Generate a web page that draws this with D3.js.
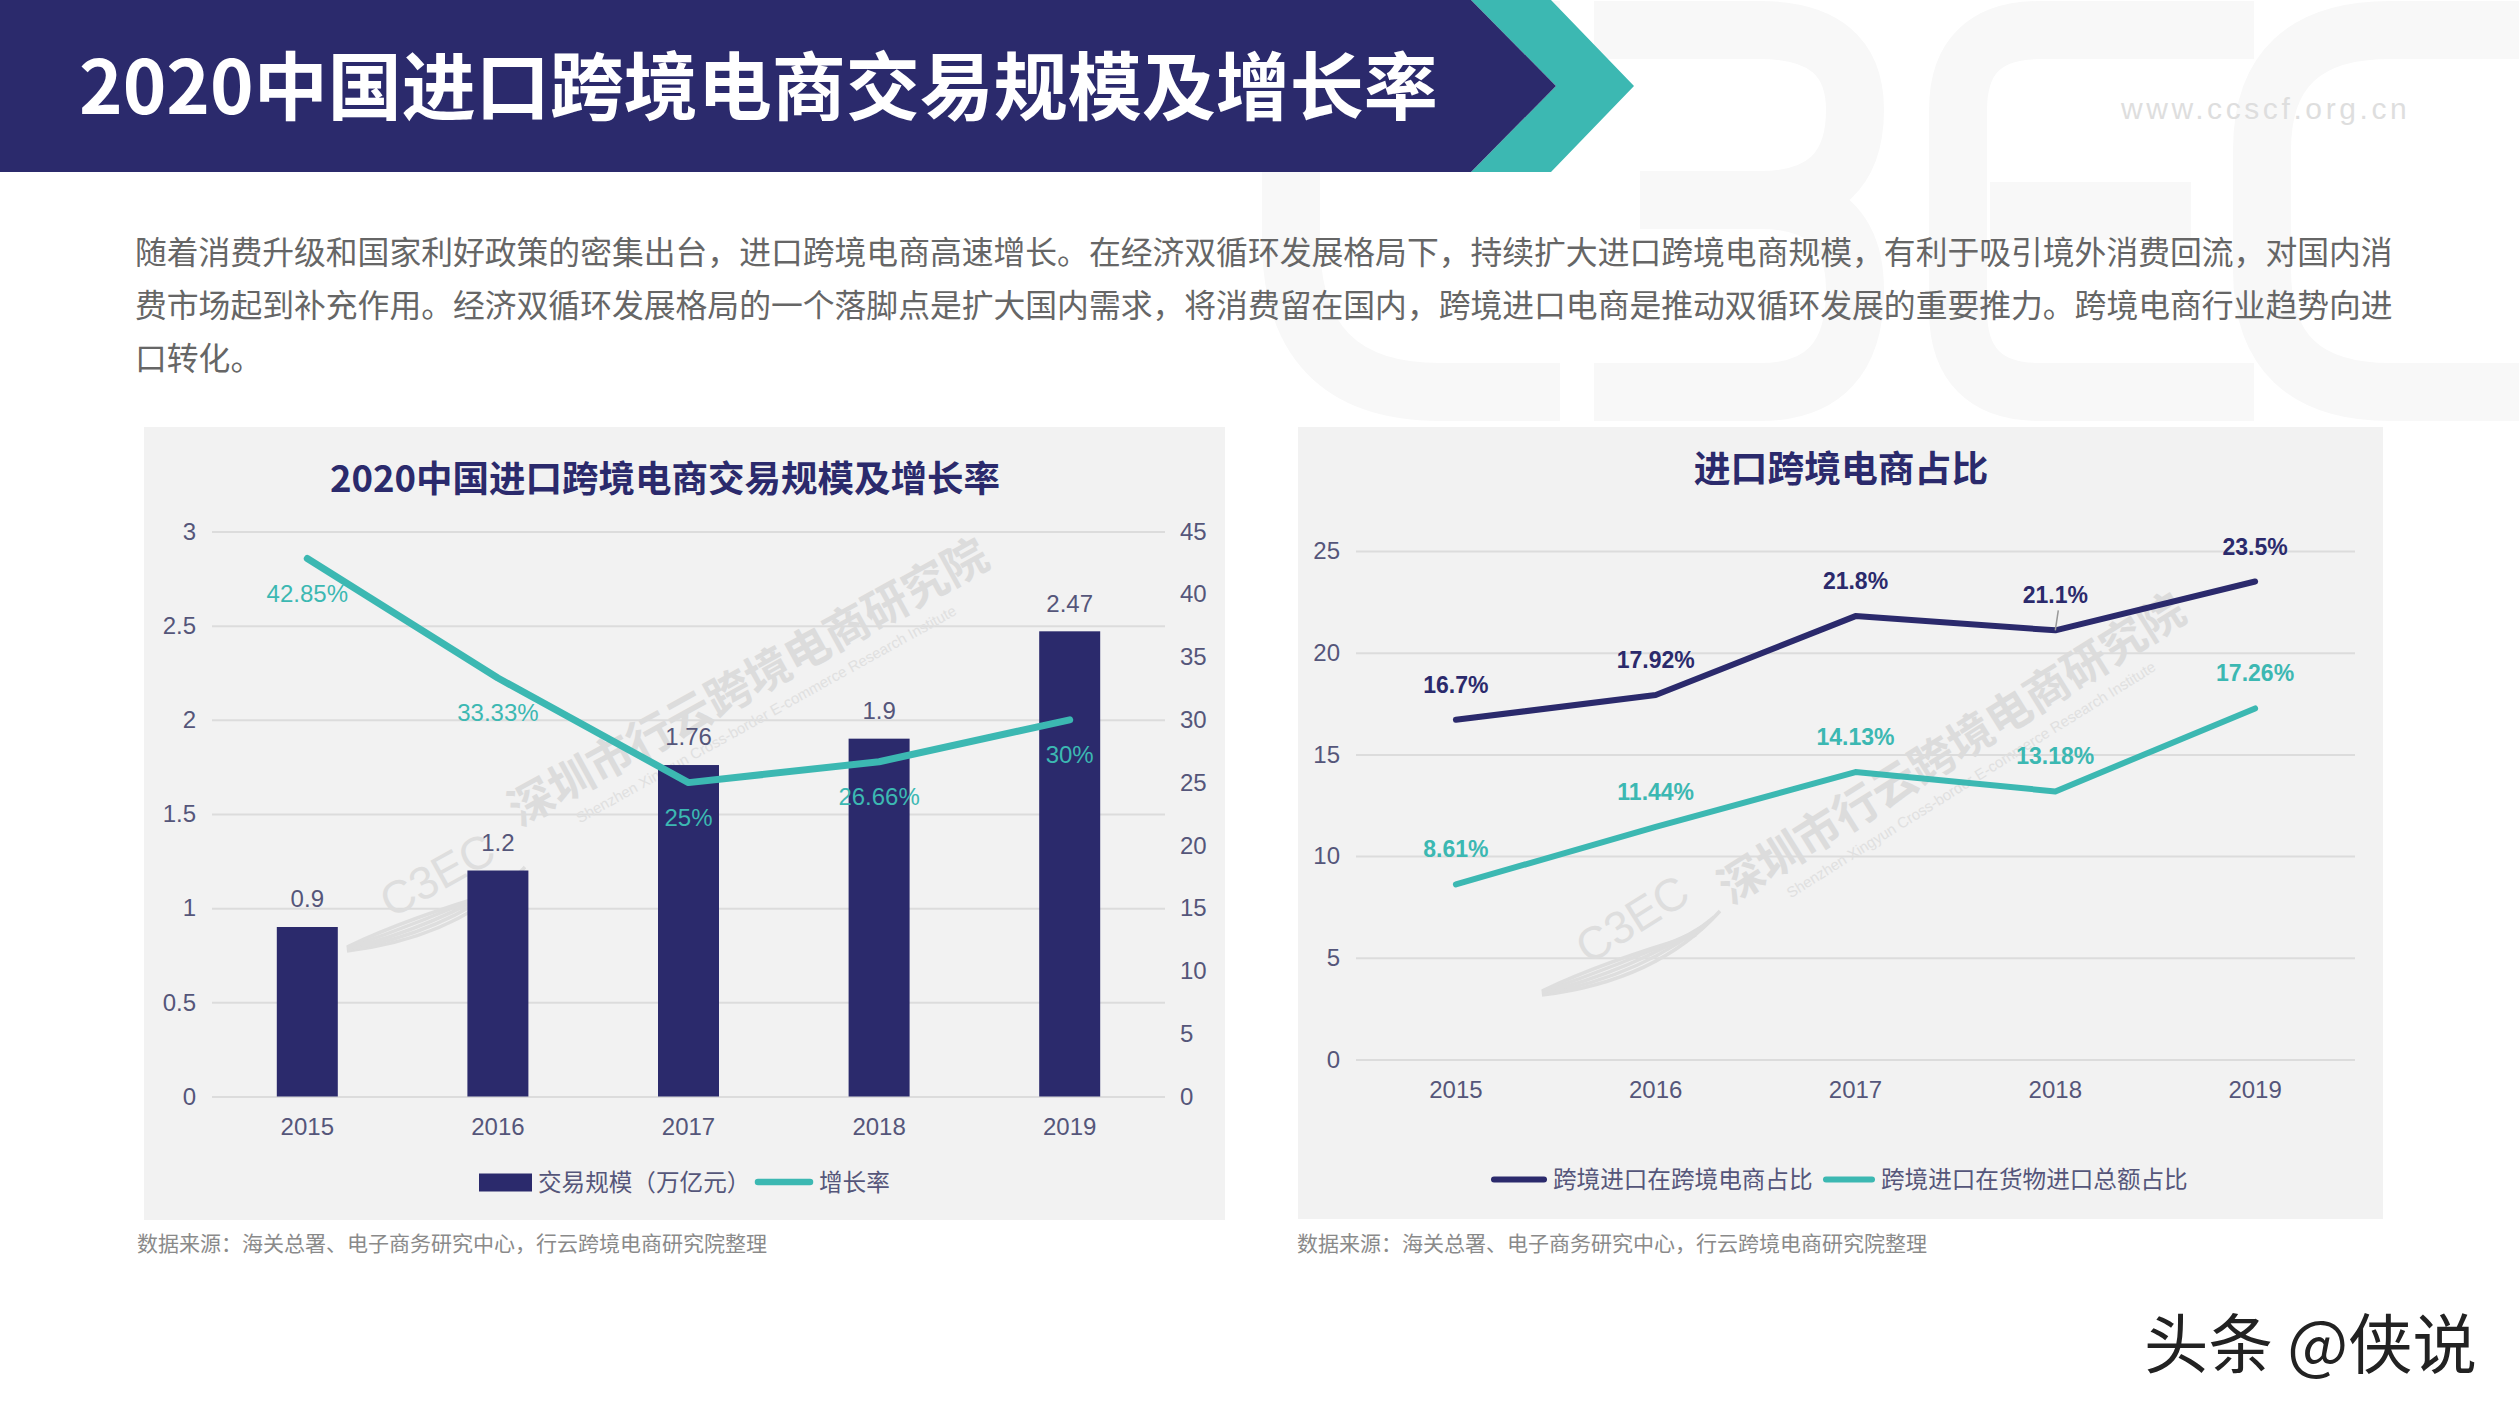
<!DOCTYPE html>
<html>
<head>
<meta charset="utf-8">
<script src="https://cdn.jsdelivr.net/npm/d3@7"></script>
<style>
html, body { margin: 0; padding: 0; background: #fff; }
svg { display: block; }
text { font-family: "Liberation Sans", "Noto Sans CJK SC", sans-serif; }
.cjk { font-family: "Noto Sans CJK SC", sans-serif; }
</style>
</head>
<body>
<div id="page"></div>
<script>
const navy = "#2b2a6c", teal = "#3cb8b2", tickColor = "#55567a", gridColor = "#dcdcdc", panelColor = "#f2f2f2"

const pageTitle = "2020中国进口跨境电商交易规模及增长率"
const bodyLines = [
  "随着消费升级和国家利好政策的密集出台，进口跨境电商高速增长。在经济双循环发展格局下，持续扩大进口跨境电商规模，有利于吸引境外消费回流，对国内消",
  "费市场起到补充作用。经济双循环发展格局的一个落脚点是扩大国内需求，将消费留在国内，跨境进口电商是推动双循环发展的重要推力。跨境电商行业趋势向进",
  "口转化。"]
const sourceText = "数据来源：海关总署、电子商务研究中心，行云跨境电商研究院整理"

const years = ["2015", "2016", "2017", "2018", "2019"]

const tradeValues = [0.9, 1.2, 1.76, 1.9, 2.47]
const growthRates = [42.85, 33.33, 25, 26.66, 30]
const growthLabels = ["42.85%", "33.33%", "25%", "26.66%", "30%"]
const leftTicks = [0, 0.5, 1, 1.5, 2, 2.5, 3]
const rightTicks = [0, 5, 10, 15, 20, 25, 30, 35, 40, 45]

const ecomShare = [16.7, 17.92, 21.8, 21.1, 23.5]
const ecomLabels = ["16.7%", "17.92%", "21.8%", "21.1%", "23.5%"]
const goodsShare = [8.61, 11.44, 14.13, 13.18, 17.26]
const goodsLabels = ["8.61%", "11.44%", "14.13%", "13.18%", "17.26%"]
const shareTicks = [0, 5, 10, 15, 20, 25]

const svg = d3.select("#page").append("svg").attr("width", 2519).attr("height", 1417)

svg.append("rect").attr("width", 2519).attr("height", 1417).attr("fill", "#fff")

//////////////////////////////////////////////////////////////
//                 background letters + banner
//////////////////////////////////////////////////////////////

const bgLetters = [
  "M1560,392 L1440,392 Q1291,392 1291,240 L1291,120 Q1291,30 1440,30 L1560,30",
  "M1594,30 L1760,30 Q1855,30 1855,110 Q1855,200 1760,200 L1640,200 M1760,200 Q1855,200 1855,290 Q1855,392 1760,392 L1594,392",
  "M2254,30 L2040,30 Q1958,30 1958,110 L1958,310 Q1958,392 2040,392 L2254,392 M1990,211 L2191,211",
  "M2519,30 L2390,30 Q2262,30 2262,150 L2262,270 Q2262,392 2390,392 L2519,392"]

svg.append("g").selectAll("path").data(bgLetters).enter().append("path")
  .attr("d", d => d)
  .attr("fill", "none")
  .attr("stroke", "#f8f8f8")
  .attr("stroke-width", 58)

svg.append("polygon").attr("points", "1471,0 1551,0 1634,86 1551,172 1471,172 1556,86").attr("fill", teal)
svg.append("polygon").attr("points", "0,0 1471,0 1556,86 1471,172 0,172").attr("fill", navy)

svg.append("text").attr("class", "cjk")
  .attr("x", 79).attr("y", 87).attr("dy", "0.36em")
  .attr("font-size", 74).attr("font-weight", 700).attr("fill", "#fff")
  .text(pageTitle)

svg.append("text")
  .attr("x", 2121).attr("y", 108).attr("dy", "0.35em")
  .attr("font-size", 30).attr("letter-spacing", 3.6).attr("fill", "#dedede")
  .text("www.ccscf.org.cn")

svg.append("g").selectAll("text").data(bodyLines).enter().append("text")
  .attr("class", "cjk")
  .attr("x", 135)
  .attr("y", (d, i) => 253 + i * 53)
  .attr("dy", "0.36em")
  .attr("font-size", 31.8)
  .attr("fill", "#666")
  .text(d => d)

//////////////////////////////////////////////////////////////
//                         helpers
//////////////////////////////////////////////////////////////

function panel(x, y, w, h) {
  svg.append("rect").attr("x", x).attr("y", y).attr("width", w).attr("height", h).attr("fill", panelColor)
}

function panelTitle(str, x, y, size) {
  svg.append("text").attr("class", "cjk")
    .attr("x", x).attr("y", y).attr("dy", "0.36em")
    .attr("text-anchor", "middle")
    .attr("font-size", size).attr("font-weight", 700).attr("fill", navy)
    .text(str)
}

function source(x) {
  svg.append("text").attr("class", "cjk")
    .attr("x", x).attr("y", 1243.5).attr("dy", "0.36em")
    .attr("font-size", 21).attr("fill", "#8a8a8a")
    .text(sourceText)
}

function styleAxis(g, size) {
  g.select(".domain").remove()
  g.selectAll("text").attr("font-size", size).attr("fill", tickColor)
    .style("font-family", '"Liberation Sans", sans-serif')
}

// faint company stamp sitting under the marks
function stamp(tx, ty, lx, ly, angle) {
  const g = svg.append("g")
  const t = g.append("g").attr("transform", `translate(${tx},${ty}) rotate(${angle})`)
  t.append("text").attr("class", "cjk")
    .attr("text-anchor", "middle").attr("font-size", 45).attr("font-weight", 700)
    .attr("fill", "#dcdcdc")
    .text("深圳市行云跨境电商研究院")
  t.append("text")
    .attr("text-anchor", "middle").attr("y", 26).attr("font-size", 15)
    .attr("fill", "#e0e0e0")
    .text("Shenzhen Xingyun Cross-border E-commerce Research Institute")
  const l = g.append("g").attr("transform", `translate(${lx},${ly}) rotate(${angle})`)
  l.append("text")
    .attr("text-anchor", "middle").attr("dy", "0.35em").attr("font-size", 46)
    .attr("fill", "#dedede")
    .text("C3EC")
  g.append("g").attr("transform", `translate(${lx},${ly})`)
    .selectAll("path").data([0, 10, 20, 30, 40]).enter().append("path")
    .attr("d", d => `M-90,${76 - d * 0.1} Q${25 - d * 1.3},${62 - d * 0.5} ${88 - d * 0.6},${-8 + d * 0.6}`)
    .attr("fill", "none").attr("stroke", "#dedede").attr("stroke-width", 3.5)
}

//////////////////////////////////////////////////////////////
//                   left chart: bars + line
//////////////////////////////////////////////////////////////

panel(144, 427, 1081, 793)
panelTitle(pageTitle, 665, 479, 36.5)

const x1 = d3.scaleBand().domain(years).range([212, 1165]).paddingInner(0.68).paddingOuter(0.34)
const y1 = d3.scaleLinear().domain([0, 3]).range([1096.5, 531.5])
const y1r = d3.scaleLinear().domain([0, 45]).range([1096.5, 531.5])
const x1c = d => x1(d) + x1.bandwidth() / 2

svg.append("g")
  .attr("transform", "translate(212,0)")
  .call(d3.axisLeft(y1).tickValues(leftTicks).tickSize(-953).tickPadding(16).tickFormat(d => d))
  .call(g => styleAxis(g, 24))
  .call(g => g.selectAll("line").attr("stroke", gridColor).attr("stroke-width", 2))

svg.append("g")
  .attr("transform", "translate(1165,0)")
  .call(d3.axisRight(y1r).tickValues(rightTicks).tickSize(0).tickPadding(15))
  .call(g => styleAxis(g, 24))

svg.append("g")
  .attr("transform", "translate(0,1096.5)")
  .call(d3.axisBottom(x1).tickSize(0).tickPadding(21))
  .call(g => styleAxis(g, 24))

stamp(756, 696, 437, 875, -29)

svg.append("g").selectAll("rect").data(years).enter().append("rect")
  .attr("x", d => x1(d))
  .attr("y", (d, i) => y1(tradeValues[i]))
  .attr("width", x1.bandwidth())
  .attr("height", (d, i) => y1(0) - y1(tradeValues[i]))
  .attr("fill", navy)

svg.append("path")
  .datum(growthRates)
  .attr("d", d3.line().x((d, i) => x1c(years[i])).y(d => y1r(d)))
  .attr("fill", "none").attr("stroke", teal).attr("stroke-width", 7)
  .attr("stroke-linecap", "round").attr("stroke-linejoin", "round")

svg.append("g").selectAll("text").data(tradeValues).enter().append("text")
  .attr("x", (d, i) => x1c(years[i]))
  .attr("y", d => y1(d) - 28).attr("dy", "0.35em")
  .attr("text-anchor", "middle").attr("font-size", 24).attr("fill", tickColor)
  .text(d => d)

svg.append("g").selectAll("text").data(growthRates).enter().append("text")
  .attr("x", (d, i) => x1c(years[i]))
  .attr("y", d => y1r(d) + 35).attr("dy", "0.35em")
  .attr("text-anchor", "middle").attr("font-size", 24).attr("fill", teal)
  .text((d, i) => growthLabels[i])

svg.append("rect").attr("x", 479).attr("y", 1173.5).attr("width", 53).attr("height", 18).attr("fill", navy)
svg.append("text").attr("class", "cjk").attr("x", 538).attr("y", 1182.5).attr("dy", "0.36em")
  .attr("font-size", 23.6).attr("fill", tickColor).text("交易规模（万亿元）")
svg.append("line").attr("x1", 758).attr("x2", 810).attr("y1", 1182).attr("y2", 1182)
  .attr("stroke", teal).attr("stroke-width", 6.5).attr("stroke-linecap", "round")
svg.append("text").attr("class", "cjk").attr("x", 819).attr("y", 1182.5).attr("dy", "0.36em")
  .attr("font-size", 23.6).attr("fill", tickColor).text("增长率")

source(137)

//////////////////////////////////////////////////////////////
//                   right chart: two lines
//////////////////////////////////////////////////////////////

panel(1298, 427, 1085, 792)
panelTitle("进口跨境电商占比", 1841, 469, 36.8)

const x2 = d3.scaleBand().domain(years).range([1356, 2355])
const y2 = d3.scaleLinear().domain([0, 25]).range([1059.5, 551])
const x2c = d => x2(d) + x2.bandwidth() / 2

svg.append("g")
  .attr("transform", "translate(1356,0)")
  .call(d3.axisLeft(y2).tickValues(shareTicks).tickSize(-999).tickPadding(16))
  .call(g => styleAxis(g, 24))
  .call(g => g.selectAll("line").attr("stroke", gridColor).attr("stroke-width", 2))

svg.append("g")
  .attr("transform", "translate(0,1059.5)")
  .call(d3.axisBottom(x2).tickSize(0).tickPadding(21))
  .call(g => styleAxis(g, 24))

stamp(1960, 762, 1632, 919, -32)

const shareLine = d3.line().x((d, i) => x2c(years[i])).y(d => y2(d))

const shareSeries = [
  {values: ecomShare, labels: ecomLabels, color: navy},
  {values: goodsShare, labels: goodsLabels, color: teal}]

shareSeries.forEach(s => {
  svg.append("path")
    .datum(s.values)
    .attr("d", shareLine)
    .attr("fill", "none").attr("stroke", s.color).attr("stroke-width", 6)
    .attr("stroke-linecap", "round").attr("stroke-linejoin", "round")

  svg.append("g").selectAll("text").data(s.values).enter().append("text")
    .attr("x", (d, i) => x2c(years[i]))
    .attr("y", d => y2(d) - 35).attr("dy", "0.35em")
    .attr("text-anchor", "middle").attr("font-size", 23).attr("font-weight", 700)
    .attr("fill", s.color)
    .text((d, i) => s.labels[i])
})

// little leader on the 2018 label
svg.append("line")
  .attr("x1", x2c("2018") + 3).attr("x2", x2c("2018"))
  .attr("y1", y2(21.1) - 20).attr("y2", y2(21.1))
  .attr("stroke", "#999").attr("stroke-width", 1.5)

svg.append("line").attr("x1", 1494).attr("x2", 1544).attr("y1", 1179.5).attr("y2", 1179.5)
  .attr("stroke", navy).attr("stroke-width", 6).attr("stroke-linecap", "round")
svg.append("text").attr("class", "cjk").attr("x", 1553).attr("y", 1179.5).attr("dy", "0.36em")
  .attr("font-size", 23.6).attr("fill", tickColor).text("跨境进口在跨境电商占比")
svg.append("line").attr("x1", 1826).attr("x2", 1872).attr("y1", 1179.5).attr("y2", 1179.5)
  .attr("stroke", teal).attr("stroke-width", 6).attr("stroke-linecap", "round")
svg.append("text").attr("class", "cjk").attr("x", 1881).attr("y", 1179.5).attr("dy", "0.36em")
  .attr("font-size", 23.6).attr("fill", tickColor).text("跨境进口在货物进口总额占比")

source(1297)

svg.append("text").attr("class", "cjk")
  .attr("x", 2144).attr("y", 1345).attr("dy", "0.36em")
  .attr("font-size", 64.4).attr("fill", "#222")
  .text("头条 @侠说")
</script>
</body>
</html>
